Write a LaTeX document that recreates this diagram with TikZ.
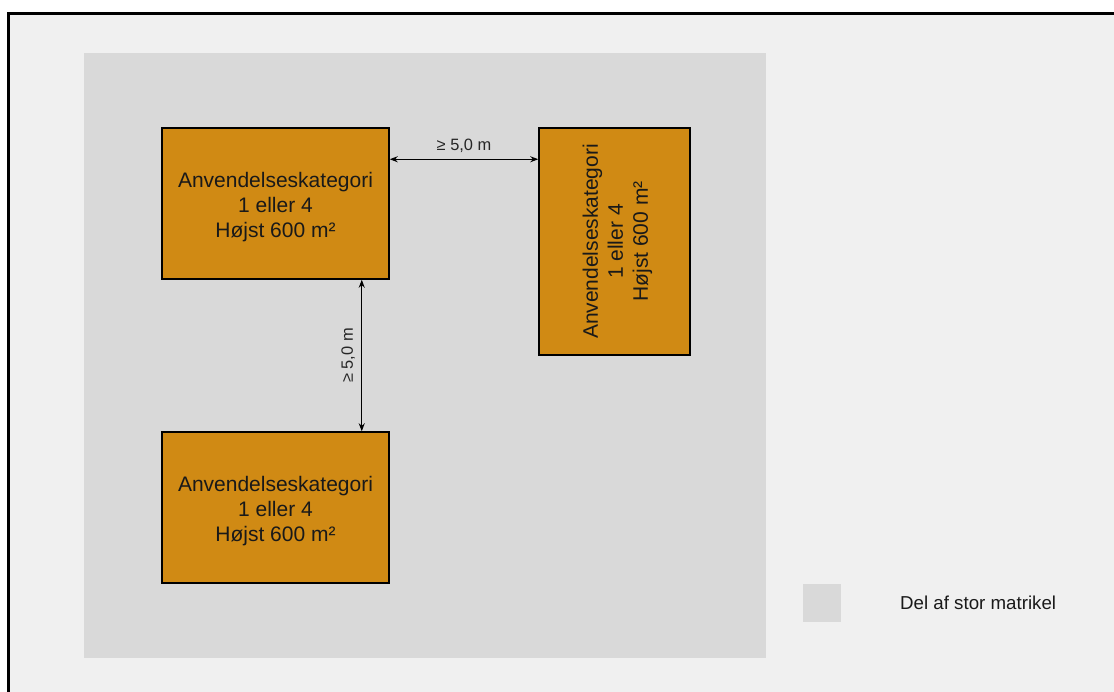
\documentclass[tikz,border=0pt]{standalone}
\usepackage{fontspec}
\setmainfont{Liberation Sans}
\usetikzlibrary{arrows.meta}
\definecolor{pagegray}{HTML}{F0F0F0}
\definecolor{lotgray}{HTML}{D9D9D9}
\definecolor{ochre}{HTML}{D08A14}
\begin{document}
\begin{tikzpicture}[x=1pt,y=-1pt,>={Stealth[length=8pt,width=6pt]},
  bldg/.style={draw=black,line width=1.5pt,fill=ochre,minimum width=227pt,
    minimum height=151pt,inner sep=0pt},
  bldgtxt/.style={align=center,text=black!90,inner sep=0pt,
    font=\fontsize{21}{25}\selectfont},
  dist/.style={font=\fontsize{16.4}{19}\selectfont,text=black!85}]
  \useasboundingbox (0,0) rectangle (1114,691);
  % page frame
  \begin{scope}
    \clip (0,0) rectangle (1114,691);
    \draw[line width=3pt,fill=pagegray] (8.5,13.5) rectangle (1130,710);
  \end{scope}
  % part of the large lot
  \fill[lotgray] (84,53) rectangle (766,658);
  % buildings
  \node[bldg] (b1) at (275.5,203.5) {};
  \node[bldgtxt] (b1txt) at ([yshift=-3.5pt]b1.center)
    {Anvendelseskategori\\1 eller 4\\Højst 600 m²};
  \node[bldg,minimum width=151pt,minimum height=227pt] (b2) at (614.5,241.5) {};
  \node[bldgtxt,rotate=90] (b2txt) at ([xshift=3pt]b2.center)
    {Anvendelseskategori\\1 eller 4\\Højst 600 m²};
  \node[bldg] (b3) at (275.5,507.5) {};
  \node[bldgtxt] (b3txt) at ([yshift=-3.5pt]b3.center)
    {Anvendelseskategori\\1 eller 4\\Højst 600 m²};
  % distances
  \coordinate (h1) at ([yshift=-32pt]b1.north east);
  \coordinate (h2) at (h1 -| b2.west);
  \draw[<->,line width=1.1pt] (h1) -- (h2)
    node[dist,midway,above=3pt] (hlab) {≥ 5,0 m};
  \coordinate (v1) at ([xshift=-28pt]b1.south east);
  \coordinate (v2) at (v1 |- b3.north);
  \draw[<->,line width=1.1pt] (v1) -- (v2)
    node[dist,midway,left=3pt,rotate=90,anchor=south] (vlab) {≥ 5,0 m};
  % legend
  \node[fill=lotgray,minimum size=38pt,inner sep=0pt] (key) at (822,603) {};
  \node[anchor=west,inner sep=0pt,text=black!90,
    font=\fontsize{18.7}{22}\selectfont] (keytxt) at (900,603) {Del af stor matrikel};
\end{tikzpicture}
\end{document}
